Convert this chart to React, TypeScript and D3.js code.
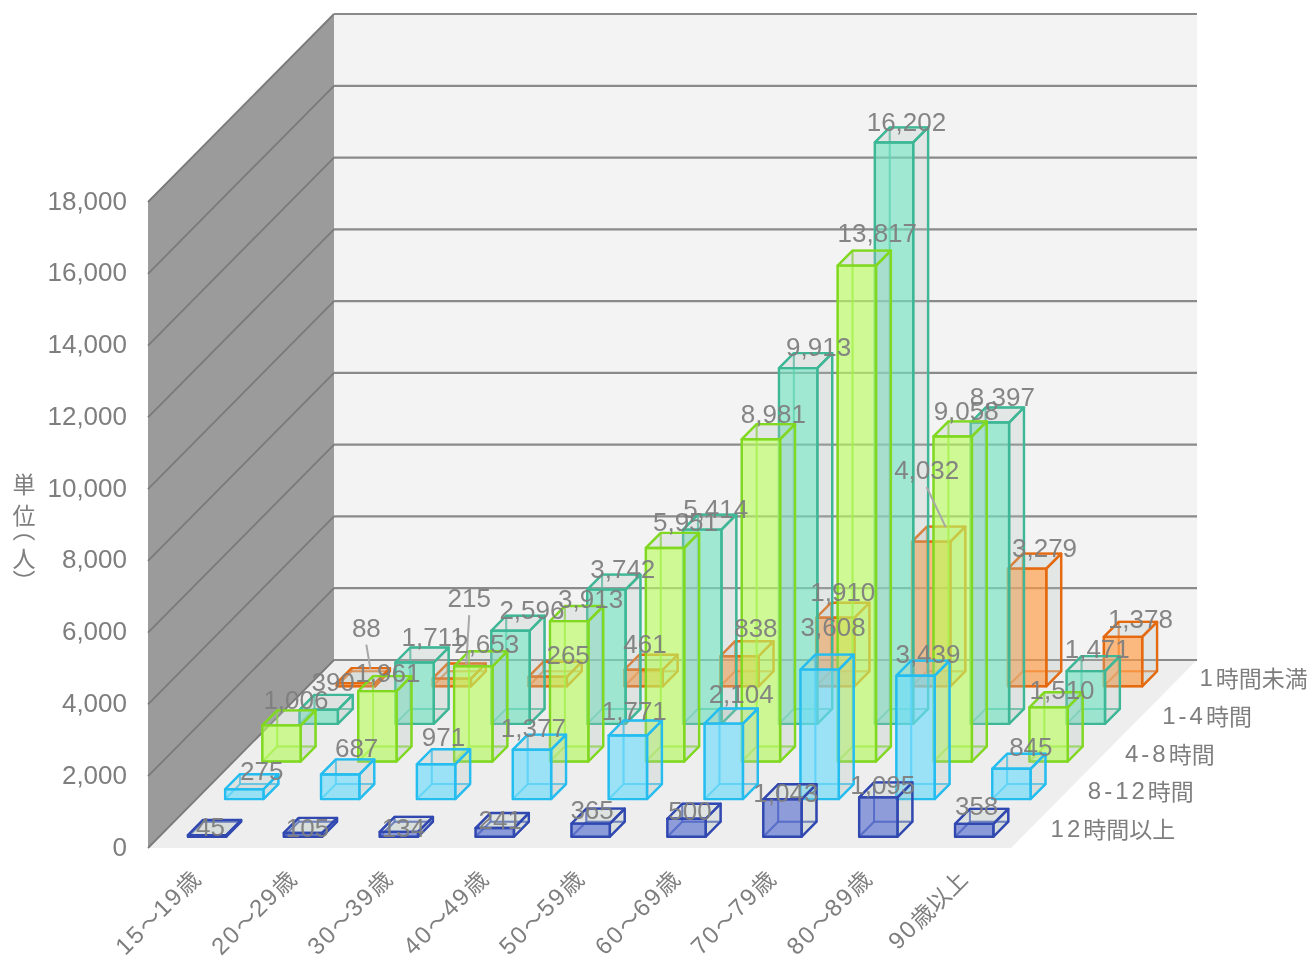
import React from 'react';
import * as d3 from 'd3';

const categories = ['15～19歳','20～29歳','30～39歳','40～49歳','50～59歳','60～69歳','70～79歳','80～89歳','90歳以上'];
const seriesNames = ['12時間以上','8-12時間','4-8時間','1-4時間','1時間未満'];
const over12 = [45,105,134,241,365,500,1043,1095,358];
const h8to12 = [275,687,971,1377,1771,2104,3608,3439,845];
const h4to8 = [1006,1961,2653,3913,5951,8981,13817,9058,1510];
const h1to4 = [390,1711,2596,3742,5414,9913,16202,8397,1471];
const under1 = [88,215,265,461,838,1910,4032,3279,1378];
const seriesValues = [over12,h8to12,h4to8,h1to4,under1];
const yTicks = [0,2000,4000,6000,8000,10000,12000,14000,16000,18000];

// the reference's labels are placed by hand: [dx, dy] from the centre of each bar's top face
const nudgeOver12 = [[-4,-1],[-3,3],[-3,4],[-2,-1],[-6,-6],[-4,0],[-4,1],[-3,-5],[-5,-10]];
const nudge8to12 = [[10,-11],[9,-19],[0,-20],[-6,-14],[-1,-17],[10,-22],[6,-35],[5,-14],[12,-14]];
const nudge4to8 = [[7,-18],[3,-11],[6,-15],[14,-15],[13,-18],[5,-18],[13,-25],[6,-18],[6,-10]];
const nudge1to4 = [[7,-20],[11,-18],[14,-13],[9,-13],[6,-13],[13,-14],[5,-13],[5,-18],[4,-15]];
const nudgeUnder1 = [[3,-48],[10,-73],[13,-14],[-6,-18],[9,-21],[0,-18],[-12,-64],[10,-13],[10,-10]];
const labelNudges = [nudgeOver12,nudge8to12,nudge4to8,nudge1to4,nudgeUnder1];
const leaderBars = [[4,0],[4,1],[4,6]];

const palette = [
  {fill:'#5a70d0',stroke:'#3048b0'},
  {fill:'#6fdcfb',stroke:'#25bdf0'},
  {fill:'#bafc62',stroke:'#80d820'},
  {fill:'#74e2c0',stroke:'#3db795'},
  {fill:'#ff9a40',stroke:'#e4690f'},
];

const FX = 148, FY = 848, DX = 186, DY = -188, W = 863, H = 646;
const fmt = d3.format(',');
const xScale = d3.scaleBand<number>().domain(d3.range(9)).range([0,W]).paddingInner(0.6).paddingOuter(0.3);
const zScale = d3.scaleBand<number>().domain(d3.range(5)).range([0,1]).paddingInner(0.6).paddingOuter(0.3);
const yScale = d3.scaleLinear().domain([0,18000]).range([0,H]);
const proj = (x:number,y:number,z:number):[number,number] => [FX+x+z*DX, FY-y+z*DY];
const poly = (pts:[number,number][]) => d3.line()(pts)+'Z';
const font = '"Liberation Sans",Arial,sans-serif';
const cjk = '"Noto Sans CJK JP",sans-serif';
const textColor = '#7e7e7e';

const topCentre = (s:number,c:number) => proj(
  xScale(c)!+xScale.bandwidth()/2,
  yScale(seriesValues[s][c]),
  zScale(s)!+zScale.bandwidth()/2);

// half-width characters are drawn in Latin type with wide spacing, the rest in CJK type
function Mixed({text,spacing}:{text:string;spacing:number}) {
  const parts = text.match(/[0-9\-]+|[^0-9\-]+/g) || [];
  return <>{parts.map((p,i)=>/[0-9\-]/.test(p[0])
    ? <tspan key={i} fontFamily={font} fontSize={24} letterSpacing={spacing}>{p}</tspan>
    : <tspan key={i} fontFamily={cjk} fontSize={23}>{p}</tspan>)}</>;
}

function Bar({s,c}:{s:number;c:number}) {
  const v = seriesValues[s][c];
  const x0 = xScale(c)!, x1 = x0+xScale.bandwidth();
  const z0 = zScale(s)!, z1 = z0+zScale.bandwidth();
  const h = yScale(v);
  const P = proj;
  const col = palette[s];
  const faces = {
    back: [P(x0,0,z1),P(x1,0,z1),P(x1,h,z1),P(x0,h,z1)],
    left: [P(x0,0,z0),P(x0,0,z1),P(x0,h,z1),P(x0,h,z0)],
    bottom: [P(x0,0,z0),P(x1,0,z0),P(x1,0,z1),P(x0,0,z1)],
    top: [P(x0,h,z0),P(x1,h,z0),P(x1,h,z1),P(x0,h,z1)],
    right: [P(x1,0,z0),P(x1,0,z1),P(x1,h,z1),P(x1,h,z0)],
    front: [P(x0,0,z0),P(x1,0,z0),P(x1,h,z0),P(x0,h,z0)],
  } as Record<string,[number,number][]>;
  const pale = '#b8c6c2';
  return <g strokeLinejoin="round">
    <path d={poly(faces.back)} fill="none" stroke={col.stroke} strokeWidth={2} strokeOpacity={0.55}/>
    <path d={poly(faces.left)} fill="none" stroke={col.stroke} strokeWidth={2} strokeOpacity={0.55}/>
    <path d={poly(faces.bottom)} fill={pale} fillOpacity={0.15} stroke={col.stroke} strokeWidth={2} strokeOpacity={0.55}/>
    <path d={poly(faces.right)} fill={pale} fillOpacity={0.28} stroke={col.stroke} strokeWidth={2.4}/>
    <path d={poly(faces.top)} fill={pale} fillOpacity={0.28} stroke={col.stroke} strokeWidth={2.4}/>
    <path d={poly(faces.front)} fill={col.fill} fillOpacity={0.65} stroke={col.stroke} strokeWidth={2.4}/>
  </g>;
}

const titleChars = ['単','位','（','人','）'];
const titleTops = [472.5,503.5,517.5,546.5,569.5];

export default function App() {
  const order = d3.range(4,-1,-1);
  return <svg width={1310} height={958} style={{position:'absolute',left:0,top:0,filter:'blur(0.6px)'}}>
    <rect width={1310} height={958} fill="#fff"/>
    <path d={poly([proj(0,0,1),proj(W,0,1),proj(W,H,1),proj(0,H,1)])} fill="#f3f3f3"/>
    <path d={poly([proj(0,0,0),proj(0,0,1),proj(0,H,1),proj(0,H,0)])} fill="#9b9b9b"/>
    <path d={poly([proj(0,0,0),proj(W,0,0),proj(W,0,1),proj(0,0,1)])} fill="#eeeeee"/>
    {yTicks.map(t=>{
      const y=yScale(t);
      const a=proj(0,y,0),b=proj(0,y,1),c=proj(W,y,1);
      return <g key={t}>
        <line x1={a[0]} y1={a[1]} x2={b[0]} y2={b[1]} stroke="#7a7a7a" strokeWidth={1.8}/>
        <line x1={b[0]} y1={b[1]} x2={c[0]} y2={c[1]} stroke="#8a8a8a" strokeWidth={2.2}/>
        <text x={127} y={a[1]-1.5} textAnchor="end" dominantBaseline="central" fontFamily={font} fontSize={26} fill={textColor}>{fmt(t)}</text>
      </g>;
    })}
    {order.map(s=>categories.map((_,c)=><Bar key={s+'-'+c} s={s} c={c}/>))}
    {leaderBars.map(([s,c])=>{
      const [tx,ty]=topCentre(s,c);
      const [dx,dy]=labelNudges[s][c];
      return <line key={s+'L'+c} x1={tx+dx} y1={ty+dy+17} x2={tx+7} y2={ty-7} stroke="#a8a8a8" strokeWidth={2}/>;
    })}
    {order.map(s=>categories.map((_,c)=>{
      const [tx,ty]=topCentre(s,c);
      const [dx,dy]=labelNudges[s][c];
      return <text key={s+'l'+c} x={tx+dx} y={ty+dy} textAnchor="middle" dominantBaseline="central" fontFamily={font} fontSize={26} fill={textColor} fillOpacity={0.95}>{fmt(seriesValues[s][c])}</text>;
    }))}
    {categories.map((cat,c)=>{
      const x=proj(xScale(c)!+xScale.bandwidth()/2,0,0)[0]-1;
      return <text key={cat} transform={`translate(${x},874) rotate(-45)`} textAnchor="end" dominantBaseline="central" fill={textColor}><Mixed text={cat} spacing={2}/></text>;
    })}
    {seriesNames.map((n,s)=>{
      const z=zScale(s)!+zScale.bandwidth()/2;
      const p=proj(W,0,z);
      return <text key={n} x={p[0]+21} y={p[1]-1.5} dominantBaseline="central" fill={textColor}><Mixed text={n} spacing={3}/></text>;
    })}
    <text fontFamily={cjk} fontSize={23} fill={textColor} style={{writingMode:'vertical-rl'}}>
      {titleChars.map((ch,i)=><tspan key={i} x={24} y={titleTops[i]}>{ch}</tspan>)}
    </text>
  </svg>;
}
